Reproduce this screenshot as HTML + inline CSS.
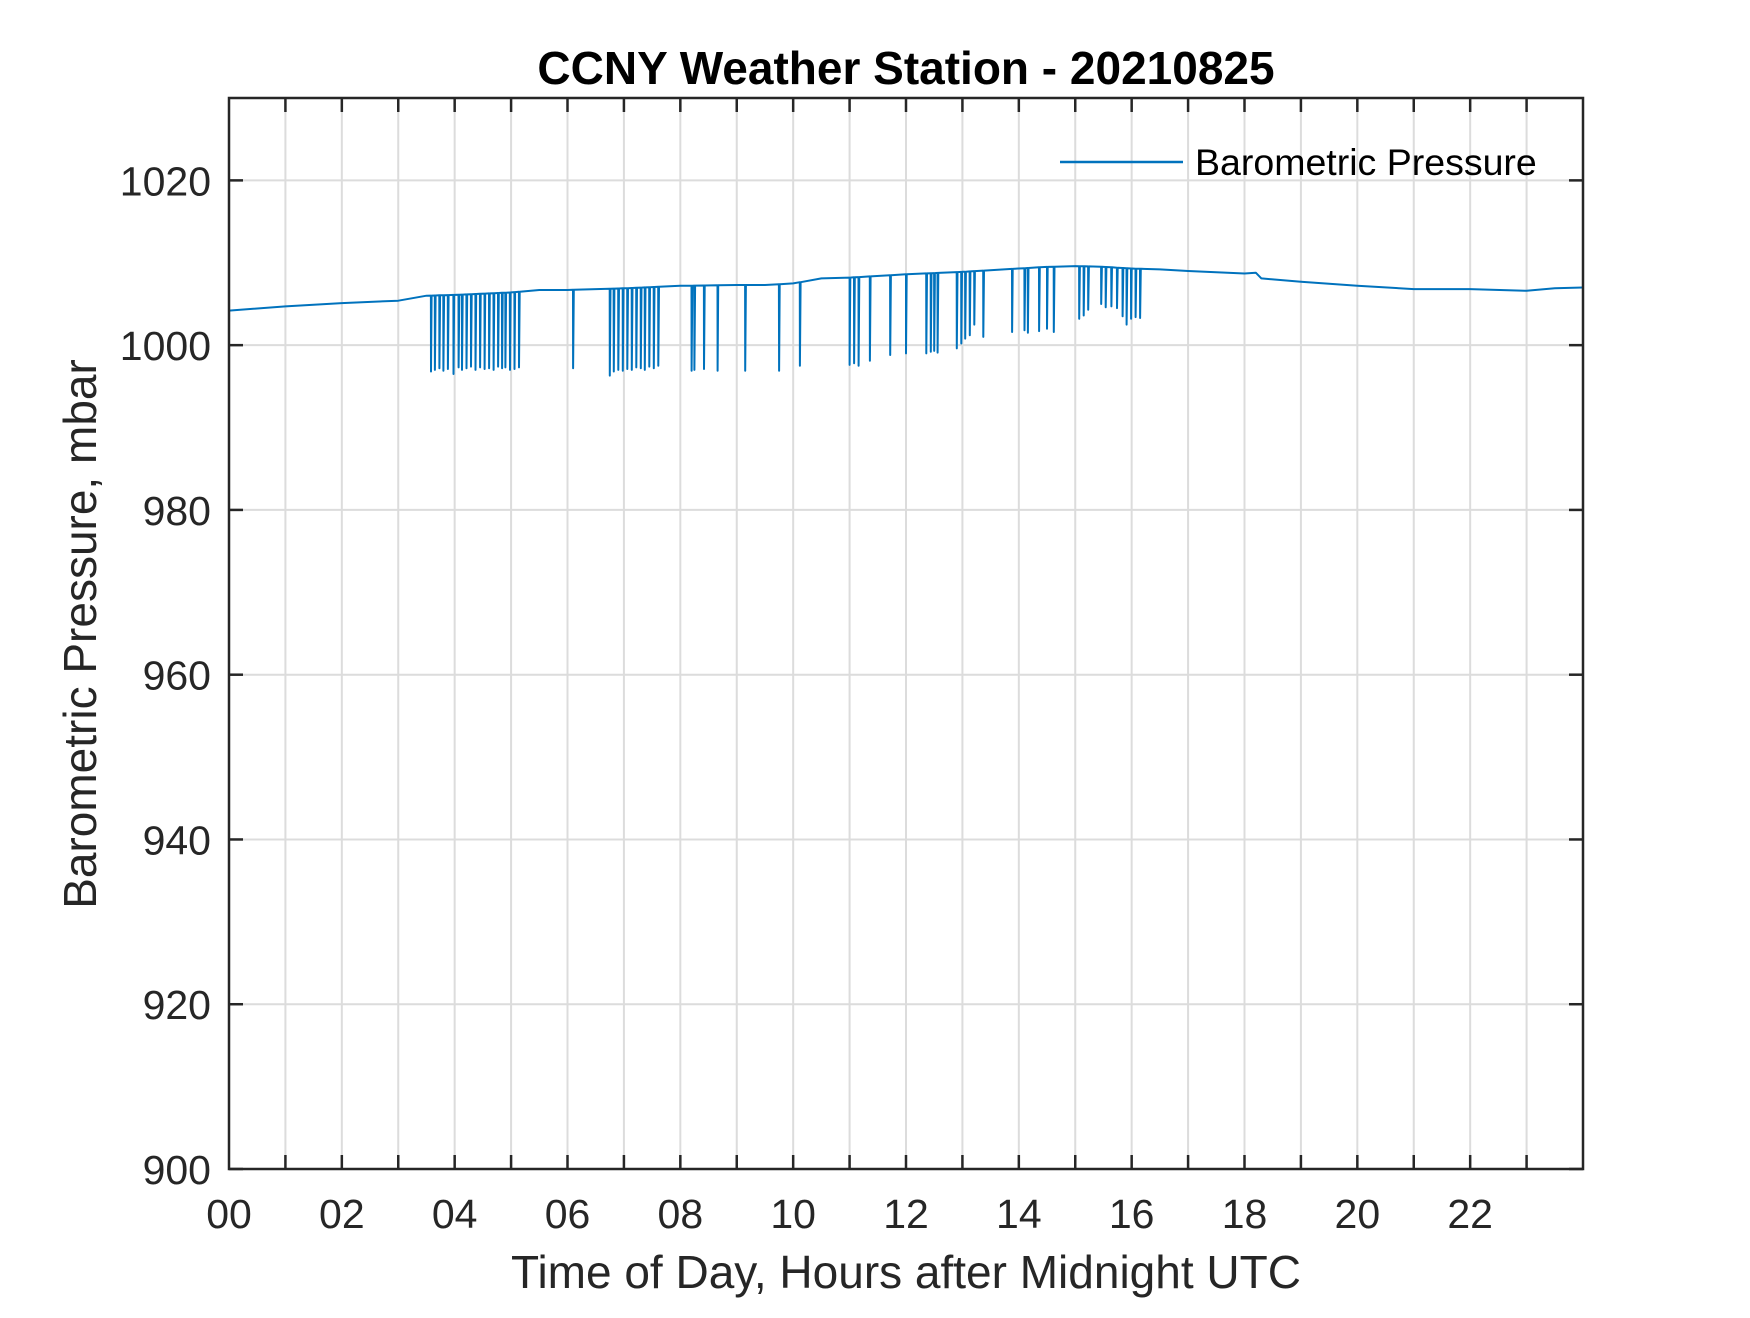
<!DOCTYPE html>
<html><head><meta charset="utf-8"><style>
body{margin:0;background:#fff;}
svg text{font-family:"Liberation Sans",Arial,sans-serif;}
</style></head><body>
<svg id="chart" width="1750" height="1313" xmlns="http://www.w3.org/2000/svg">
<text x="906" y="84" font-size="46" font-weight="bold" text-anchor="middle" fill="#000">CCNY Weather Station - 20210825</text>
<g id="grid"></g>
<g id="ticks"></g>
<g id="plot"></g>
<rect x="229" y="98" width="1354" height="1071" fill="none" stroke="#262626" stroke-width="2.5"/>
<text x="906" y="1288" font-size="46" text-anchor="middle" fill="#262626">Time of Day, Hours after Midnight UTC</text>
<text transform="translate(96,634) rotate(-90)" font-size="46" text-anchor="middle" fill="#262626">Barometric Pressure, mbar</text>
<g>
<line x1="1060" y1="162" x2="1183" y2="162" stroke="#0072BD" stroke-width="2.5"/>
<text x="1195" y="175" font-size="37.5" fill="#000">Barometric Pressure</text>
</g>
</svg>
<script>
const baseTimes=[0,1,2,3,3.5,4,5,5.5,6,7,8,9,9.5,10,10.5,11,12,13,14,14.5,15,15.5,16,16.5,17,18,18.2,18.3,19,20,21,22,23,23.5,24];
const baseVals=[1004.2,1004.7,1005.1,1005.4,1006,1006.1,1006.4,1006.7,1006.7,1006.9,1007.2,1007.3,1007.3,1007.5,1008.1,1008.2,1008.6,1008.9,1009.3,1009.5,1009.6,1009.5,1009.3,1009.2,1009,1008.7,1008.8,1008.1,1007.7,1007.2,1006.8,1006.8,1006.6,1006.9,1007];
const spikeTimes=[3.58,3.65,3.73,3.8,3.88,3.98,4.07,4.13,4.21,4.29,4.37,4.45,4.53,4.61,4.69,4.77,4.84,4.9,4.98,5.06,5.14,6.1,6.75,6.82,6.9,6.98,7.06,7.14,7.22,7.3,7.37,7.45,7.53,7.61,8.2,8.25,8.42,8.66,9.15,9.75,10.12,11.0,11.08,11.16,11.36,11.72,12.0,12.36,12.44,12.5,12.56,12.9,12.98,13.05,13.13,13.21,13.37,13.88,14.1,14.16,14.36,14.5,14.62,15.07,15.15,15.23,15.46,15.54,15.64,15.74,15.84,15.91,15.99,16.07,16.15];
const spikeMins=[996.8,997,997.2,996.9,997.1,996.5,997.3,997,997.2,997.4,997,997.3,997.1,997.2,997,997.4,997.2,997.3,997,997.1,997.3,997.2,996.3,996.8,997,996.9,997.1,997,997.3,997.2,997,997.4,997.2,997.5,996.9,997,997.1,996.9,996.9,996.9,997.5,997.6,997.8,997.5,998.1,998.8,999,999,999.2,999.3,999.1,999.6,1000.2,1000.8,1001.2,1002.5,1001,1001.6,1001.8,1001.5,1001.7,1002,1001.6,1003.2,1003.6,1004.3,1005,1004.6,1004.7,1004.5,1003.5,1002.5,1003.2,1003.4,1003.3];
const xTickLabels=["00","02","04","06","08","10","12","14","16","18","20","22"];
const yTickVals=[900,920,940,960,980,1000,1020];

const L=229,R=1583,T=98,B=1169,X0=0,X1=24,Y0=900,Y1=1030;
const xs=h=>L+(h-X0)/(X1-X0)*(R-L);
const ys=v=>B-(v-Y0)/(Y1-Y0)*(B-T);
const NS="http://www.w3.org/2000/svg";
function mk(tag,attrs,parent){const e=document.createElementNS(NS,tag);for(const k in attrs)e.setAttribute(k,attrs[k]);parent.appendChild(e);return e;}
const grid=document.getElementById('grid'),ticks=document.getElementById('ticks'),plot=document.getElementById('plot');
function baseAt(t){for(let i=0;i<baseTimes.length-1;i++){if(t<=baseTimes[i+1]){const f=(t-baseTimes[i])/(baseTimes[i+1]-baseTimes[i]);return baseVals[i]+f*(baseVals[i+1]-baseVals[i]);}}return baseVals[baseVals.length-1];}
for(let h=1;h<24;h++){
  const g=mk('line',{x1:xs(h),x2:xs(h),y1:T,y2:B,stroke:'#dcdcdc','stroke-width':2},grid);
  
  
  const t1=mk('line',{x1:xs(h),x2:xs(h),y1:B,y2:B-14,stroke:'#262626','stroke-width':2.5},ticks);
  
  
  const t2=mk('line',{x1:xs(h),x2:xs(h),y1:T,y2:T+14,stroke:'#262626','stroke-width':2.5},ticks);
  
  
}
xTickLabels.forEach((lab,i)=>{
  const t=mk('text',{x:xs(i*2),y:B+59,'font-size':41,'text-anchor':'middle',fill:'#262626'},ticks);
  t.textContent=lab;
  
  
});
yTickVals.forEach(v=>{
  const g=mk('line',{x1:L,x2:R,y1:ys(v),y2:ys(v),stroke:'#dcdcdc','stroke-width':2},grid);
  
  
  const a=mk('line',{x1:L,x2:L+14,y1:ys(v),y2:ys(v),stroke:'#262626','stroke-width':2.5},ticks);
  
  
  const b=mk('line',{x1:R,x2:R-14,y1:ys(v),y2:ys(v),stroke:'#262626','stroke-width':2.5},ticks);
  
  
  const t=mk('text',{x:L-18,y:ys(v)+15,'font-size':41,'text-anchor':'end',fill:'#262626'},ticks);
  t.textContent=String(v);
  
  
});
let pts=baseTimes.map((t,i)=>[t,baseVals[i]]);
spikeTimes.forEach((t,i)=>{const b=baseAt(t);pts.push([t-0.002,b]);pts.push([t,spikeMins[i]]);pts.push([t+0.012,b]);});
pts.sort((a,b)=>a[0]-b[0]);
const d=pts.map((p,i)=>(i?'L':'M')+xs(p[0]).toFixed(1)+' '+ys(p[1]).toFixed(1)).join(' ');
const line=mk('path',{d:d,fill:'none',stroke:'#0072BD','stroke-width':2,'stroke-linejoin':'round'},plot);


</script>
</body></html>
